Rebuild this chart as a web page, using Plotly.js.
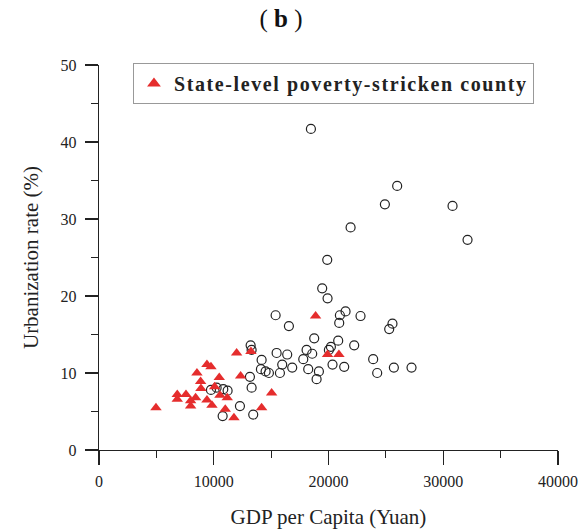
<!DOCTYPE html>
<html>
<head>
<meta charset="utf-8">
<script src="https://cdn.plot.ly/plotly-3.0.1.min.js"></script>
<style>
html,body{margin:0;padding:0;background:#fff;}
#chart{width:586px;height:529px;}
text.legendtext{letter-spacing:1.6px;}
</style>
</head>
<body>
<div id="chart"></div>
<script>
// Non-poverty counties (open circles)
const otherGdp = [18467, 25984, 24913, 30810, 21925, 32117, 19890, 19451, 19918, 15392, 16550,
  20993, 21487, 20934, 22790, 25575, 25290, 18755, 20845, 20209, 20035, 22240, 18090, 18580,
  17800, 18233, 19164, 18963, 20350, 21368, 23894, 24243, 25697, 27235,
  13214, 13300, 14172, 15479, 16402, 15967, 16838, 15767, 14111, 14518, 14808, 13153, 13300,
  9756, 10250, 10830, 11207, 12282, 10775, 13440];
const otherUrb = [41.7, 34.3, 31.9, 31.7, 28.9, 27.3, 24.7, 21.0, 19.7, 17.5, 16.1,
  17.5, 18.0, 16.5, 17.4, 16.4, 15.7, 14.5, 14.2, 13.4, 13.0, 13.6, 13.0, 12.5,
  11.8, 10.5, 10.2, 9.2, 11.1, 10.8, 11.8, 10.0, 10.7, 10.7,
  13.6, 13.0, 11.7, 12.6, 12.4, 11.1, 10.7, 10.0, 10.5, 10.2, 10.0, 9.5, 8.1,
  7.8, 8.1, 7.9, 7.7, 5.7, 4.4, 4.6];

// State-level poverty-stricken counties (red triangles)
const povGdp = [4965, 6820, 6820, 7580, 7985, 7985, 8420, 8536, 8855, 8885, 9408, 9756, 9408,
  9843, 10078, 10480, 10540, 11176, 11002, 11760, 11995, 12343, 13240, 14172, 15044,
  18874, 19918, 20906];
const povUrb = [5.5, 7.2, 6.6, 7.2, 6.4, 5.7, 6.8, 10.0, 8.9, 8.0, 11.1, 10.8, 6.5,
  5.8, 8.2, 9.4, 7.1, 6.8, 5.3, 4.2, 12.6, 9.6, 12.8, 5.5, 7.4,
  17.4, 12.4, 12.4];

const xTickVals = [0, 10000, 20000, 30000, 40000];
const xTickText = ['0', '10000', '20000', '30000', '40000'];
const yTickVals = [0, 10, 20, 30, 40, 50];
const yTickText = ['0', '10', '20', '30', '40', '50'];

const serif = 'Liberation Serif';

const traces = [
  {
    x: otherGdp, y: otherUrb, type: 'scatter', mode: 'markers', showlegend: false,
    name: 'Other county',
    marker: {symbol: 'circle-open', size: 9, color: '#222', line: {width: 1.2, color: '#222'}}
  },
  {
    x: povGdp, y: povUrb, type: 'scatter', mode: 'markers',
    name: '<b>State-level poverty-stricken county</b>',
    marker: {symbol: 'triangle-up', size: 10, color: '#e52d2d', line: {width: 0}}
  }
];

const layout = {
  width: 586, height: 529,
  margin: {l: 99, r: 28, t: 65, b: 79},
  paper_bgcolor: '#fff', plot_bgcolor: '#fff',
  font: {family: serif, color: '#222'},
  title: {text: '( <b>b</b> )', font: {family: serif, size: 25, color: '#111'}, x: 281 / 586, xanchor: 'center', y: 0.965, yanchor: 'middle'},
  xaxis: {
    range: [0, 40000], tickvals: xTickVals, ticktext: xTickText,
    showline: true, linecolor: '#222', linewidth: 1.2, showgrid: false, zeroline: false,
    ticks: 'outside', ticklen: 14, tickwidth: 1.2, tickcolor: '#222',
    minor: {dtick: 5000, tick0: 0, ticks: 'outside', ticklen: 7, tickwidth: 1.2, tickcolor: '#222'},
    tickfont: {family: serif, size: 16, color: '#222'},
    ticklabelstandoff: 3,
    title: {text: 'GDP per Capita (Yuan)', font: {family: serif, size: 21, color: '#222'}, standoff: 22},
    automargin: false, fixedrange: true
  },
  yaxis: {
    range: [0, 50], tickvals: yTickVals, ticktext: yTickText,
    showline: true, linecolor: '#222', linewidth: 1.2, showgrid: false, zeroline: false,
    ticks: 'outside', ticklen: 13, tickwidth: 1.2, tickcolor: '#222',
    minor: {dtick: 5, tick0: 0, ticks: 'outside', ticklen: 7, tickwidth: 1.2, tickcolor: '#222'},
    tickfont: {family: serif, size: 16, color: '#222'},
    ticklabelstandoff: 5,
    title: {text: 'Urbanization rate (%)', font: {family: serif, size: 21, color: '#222'}, standoff: 16},
    automargin: false, fixedrange: true
  },
  legend: {
    x: 0.074, y: 1.005, xanchor: 'left', yanchor: 'top',
    bgcolor: '#fff', bordercolor: '#999', borderwidth: 1,
    itemsizing: 'constant',
    font: {family: serif, size: 20, color: '#222'}
  }
};

Plotly.newPlot('chart', traces, layout, {staticPlot: true, displayModeBar: false});
</script>
</body>
</html>
